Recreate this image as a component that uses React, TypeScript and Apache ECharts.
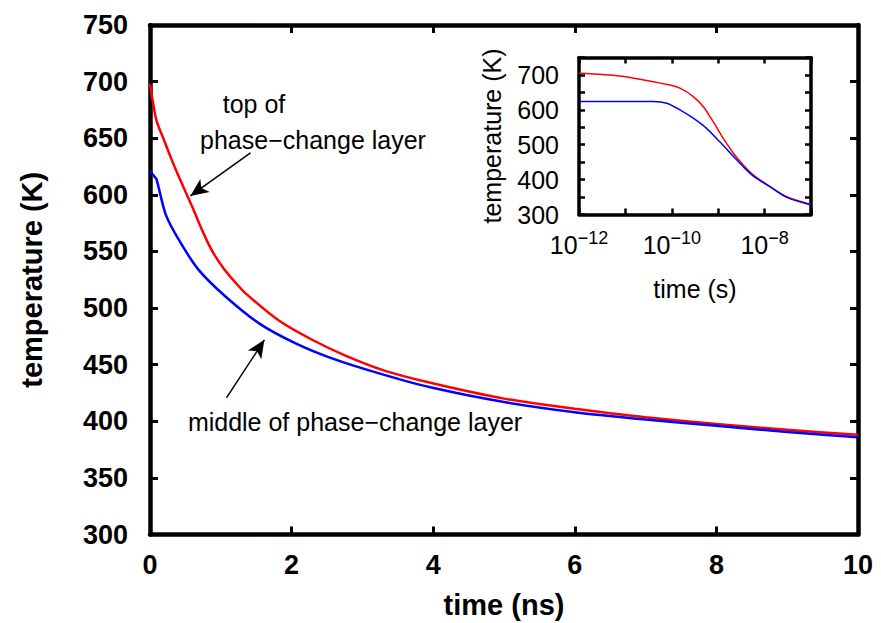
import React, { useEffect, useRef } from 'react';
import * as echarts from 'echarts';

// Main plot: time (ns) vs temperature (K)
const mainTimeTop = [0, 0.09, 0.2, 0.3, 0.4, 0.5, 0.6, 0.7, 0.8, 0.9, 1.04, 1.2, 1.35, 1.82, 2.29, 2.76, 3.3, 3.96, 5, 6, 7, 8, 9, 10];
const mainTempTop = [698, 666, 648, 632, 617, 603, 589, 574, 560, 548, 535, 523, 513, 489, 472, 458, 445, 434, 420, 411, 403.5, 397.5, 392.5, 388];
const mainTimeMid = [0, 0.05, 0.09, 0.22, 0.41, 0.69, 1.07, 1.54, 2.05, 2.55, 3.2, 3.96, 5, 6, 7, 8, 9, 10];
const mainTempMid = [621, 617, 614, 583, 560, 533.5, 510, 486.5, 469, 456, 443, 430, 417, 408, 401.5, 396, 390.5, 386];

// Inset: time (s, log) vs temperature (K)
const insetTimeTop = [1e-12, 7.6e-12, 9.1e-11, 1.5e-10, 2.9e-10, 4.8e-10, 7.8e-10, 1.29e-9, 2.14e-9, 3.47e-9, 5.75e-9, 1.32e-8, 3.0e-8, 1e-7];
const insetTempTop = [705, 697, 671, 662, 638, 609, 566, 518, 475, 442, 413, 380, 351, 329];
const insetTimeMid = [1e-12, 4.0e-11, 7.8e-11, 1.5e-10, 2.9e-10, 5.6e-10, 1.07e-9, 2.14e-9, 3.47e-9, 5.75e-9, 1.32e-8, 3.0e-8, 1e-7];
const insetTempMid = [624, 624, 619, 600, 576, 547, 509, 466, 437, 410, 379, 349, 327];

// Annotation arrows (data coordinates: [time ns, temperature K])
const arrowTop = [[1.42, 637], [0.57, 599]];
const arrowMid = [[1.08, 420.6], [1.616, 471.9]];

const labelTop1 = 'top of';
const labelTop2 = 'phase−change layer';
const labelMid = 'middle of phase−change layer';

const FONT = "'Liberation Sans', Arial, Helvetica, sans-serif";

function zip(xs: number[], ys: number[]) {
  return xs.map((x, i) => [x, ys[i]]);
}

export default function App() {
  const ref = useRef<HTMLDivElement>(null);
  useEffect(() => {
    const chart = echarts.init(ref.current!, null, { renderer: 'svg' });
    const mainLine = { show: true, onZero: false, lineStyle: { color: '#000', width: 4.5 } };
    const mainTick = { show: true, inside: true, length: 8, lineStyle: { color: '#000', width: 3 } };
    const insetLine = { show: true, onZero: false, lineStyle: { color: '#000', width: 3.5 } };
    const insetTick = { show: true, inside: true, length: 6, lineStyle: { color: '#000', width: 2.5 } };
    const boldLabel = { color: '#000', fontSize: 27, fontWeight: 'bold', fontFamily: FONT };
    const normal = { color: '#000', fontSize: 25, fontFamily: FONT };
    const textStyle = (t: string) => ({
      text: t, fill: '#000', font: `25px ${FONT}`,
      align: 'center', verticalAlign: 'middle', textAlign: 'center', textVerticalAlign: 'middle',
    });

    const option: any = {
      animation: false,
      backgroundColor: '#ffffff',
      grid: [
        { left: 150, top: 25, width: 708, height: 509.5, containLabel: false, outerBoundsMode: 'none' },
        { left: 579, top: 57.5, width: 232, height: 157, containLabel: false, outerBoundsMode: 'none' },
      ],
      xAxis: [
        {
          gridIndex: 0, type: 'value', min: 0, max: 10, interval: 2, position: 'bottom',
          axisLine: mainLine, axisTick: mainTick, splitLine: { show: false },
          axisLabel: { show: true, margin: 17, ...boldLabel },
          name: 'time (ns)', nameLocation: 'middle', nameGap: 56,
          nameTextStyle: { color: '#000', fontSize: 29, fontWeight: 'bold', fontFamily: FONT },
        },
        {
          gridIndex: 0, type: 'value', min: 0, max: 10, interval: 2, position: 'top',
          axisLine: mainLine, axisTick: mainTick, splitLine: { show: false }, axisLabel: { show: false },
        },
        {
          gridIndex: 1, type: 'log', logBase: 10, min: 1e-12, max: 1e-7, position: 'bottom',
          axisLine: insetLine, axisTick: insetTick, splitLine: { show: false }, minorTick: { show: false },
          axisLabel: {
            show: true, margin: 14, color: '#000',
            formatter: (v: number) => {
              const e = Math.round(Math.log10(v));
              if (e % 2 !== 0) return '';
              return '{b|10}{s|−' + (-e) + '}';
            },
            rich: {
              b: { fontSize: 25, fontFamily: FONT, color: '#000' },
              s: { fontSize: 18, fontFamily: FONT, color: '#000', padding: [0, 0, 14, 0] },
            },
          },
          name: 'time (s)', nameLocation: 'middle', nameGap: 62, nameTextStyle: normal,
        },
        {
          gridIndex: 1, type: 'log', logBase: 10, min: 1e-12, max: 1e-7, position: 'top',
          axisLine: insetLine, axisTick: insetTick, splitLine: { show: false }, axisLabel: { show: false },
        },
      ],
      yAxis: [
        {
          gridIndex: 0, type: 'value', min: 300, max: 750, interval: 50, position: 'left',
          axisLine: mainLine, axisTick: mainTick, splitLine: { show: false },
          axisLabel: { show: true, margin: 22, ...boldLabel },
          name: 'temperature (K)', nameLocation: 'middle', nameGap: 104,
          nameTextStyle: { color: '#000', fontSize: 29, fontWeight: 'bold', fontFamily: FONT },
        },
        {
          gridIndex: 0, type: 'value', min: 300, max: 750, interval: 50, position: 'right',
          axisLine: mainLine, axisTick: mainTick, splitLine: { show: false }, axisLabel: { show: false },
        },
        {
          gridIndex: 1, type: 'value', min: 300, max: 750, interval: 50, position: 'left',
          axisLine: insetLine, axisTick: insetTick, splitLine: { show: false },
          axisLabel: {
            show: true, margin: 20, ...normal,
            formatter: (v: number) => (v % 100 === 0 && v <= 700 ? String(v) : ''),
          },
          name: 'temperature (K)', nameLocation: 'middle', nameGap: 75, nameTextStyle: normal,
        },
        {
          gridIndex: 1, type: 'value', min: 300, max: 750, interval: 50, position: 'right',
          axisLine: insetLine, axisTick: insetTick, splitLine: { show: false }, axisLabel: { show: false },
        },
      ],
      series: [
        {
          name: 'top', type: 'line', xAxisIndex: 0, yAxisIndex: 0,
          data: zip(mainTimeTop, mainTempTop), showSymbol: false, symbol: 'none',
          smooth: 0.25,
          lineStyle: { color: '#ff0000', width: 2.5 },
          markLine: {
            silent: true, symbol: ['none', 'arrow'], symbolSize: [12, 18],
            label: { show: false },
            lineStyle: { color: '#000', width: 1.5, type: 'solid' },
            data: [
              [{ coord: arrowTop[0] }, { coord: arrowTop[1] }],
              [{ coord: arrowMid[0] }, { coord: arrowMid[1] }],
            ],
          },
        },
        {
          name: 'middle', type: 'line', xAxisIndex: 0, yAxisIndex: 0,
          data: zip(mainTimeMid, mainTempMid), showSymbol: false, symbol: 'none',
          smooth: 0.25,
          lineStyle: { color: '#0000ff', width: 2.5 },
        },
        {
          name: 'top-inset', type: 'line', xAxisIndex: 2, yAxisIndex: 2,
          data: zip(insetTimeTop, insetTempTop), showSymbol: false, symbol: 'none',
          smooth: 0.25,
          lineStyle: { color: '#ff0000', width: 1.5 },
        },
        {
          name: 'middle-inset', type: 'line', xAxisIndex: 2, yAxisIndex: 2,
          data: zip(insetTimeMid, insetTempMid), showSymbol: false, symbol: 'none',
          smooth: 0.25,
          lineStyle: { color: '#0000ff', width: 1.5 },
        },
      ],
      graphic: [
        { type: 'text', x: 254, y: 104, style: textStyle(labelTop1) },
        { type: 'text', x: 313, y: 140, style: textStyle(labelTop2) },
        { type: 'text', x: 355, y: 422, style: textStyle(labelMid) },
      ],
    };
    chart.setOption(option);
    return () => chart.dispose();
  }, []);
  return (
    <div
      ref={ref}
      style={{ position: 'fixed', left: 0, top: 0, width: 881, height: 623, background: '#fff' }}
    />
  );
}
